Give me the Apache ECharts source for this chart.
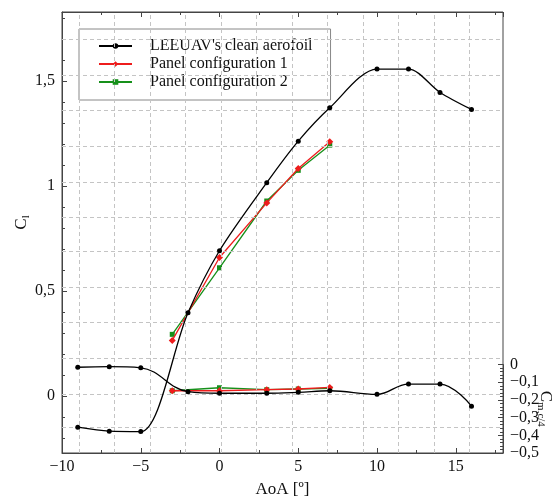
<!DOCTYPE html>
<html><head><meta charset="utf-8">
<script src="https://cdn.jsdelivr.net/npm/echarts@6/dist/echarts.min.js"></script>
<style>html,body{margin:0;padding:0;background:#fff}#c{width:556px;height:497px}</style>
</head><body><div id="c"></div>
<script>
// ---- data ----
const aoaClean = [-9, -7, -5, -2, 0, 3, 5, 7, 10, 12, 14, 16];
const clClean  = [-0.148, -0.167, -0.169, 0.397, 0.692, 1.016, 1.214, 1.373, 1.557, 1.557, 1.446, 1.365];
const cmClean  = [-0.015, -0.012, -0.018, -0.153, -0.162, -0.162, -0.157, -0.148, -0.168, -0.110, -0.110, -0.235];
const aoaPanel = [-3, 0, 3, 5, 7];
const clPanel1 = [0.265, 0.660, 0.920, 1.084, 1.211];
const clPanel2 = [0.294, 0.611, 0.929, 1.075, 1.195];
const cmPanel1 = [-0.148, -0.148, -0.142, -0.138, -0.129];
const cmPanel2 = [-0.148, -0.131, -0.142, -0.138, -0.135];
const seriesNames = ["LEEUAV's clean aerofoil", 'Panel configuration 1', 'Panel configuration 2'];
const xAxisName = 'AoA [º]';

// ---- helpers ----
const FONT = 'Liberation Serif';
const zip = (xs, ys) => xs.map((x, i) => [x, ys[i]]);
const fmt = v => (v < 0 ? '\u2212' : '') + String(Math.abs(+v.toFixed(3))).replace('.', ',');
const AX = '#444';
const labelStyle = {fontFamily: FONT, fontSize: 16, color: '#111'};

// dashed background grid (independent of tick positions in the original)
const gridXs = [], gridYs = [];
for (let k = 0; k < 12; k++) gridXs.push(+(-8.93 + 2.254 * k).toFixed(3));
for (let k = 0; k < 12; k++) gridYs.push(+(1.695 - 0.1681 * k).toFixed(4));

const nameRich = {
  c: {fontFamily: FONT, fontSize: 17, color: '#111', verticalAlign: 'top', lineHeight: 17},
  s: {fontFamily: FONT, fontSize: 11, color: '#111', verticalAlign: 'top', lineHeight: 11, padding: [8, 0, 0, 0]}
};

const axisLineStyle = {show: true, onZero: false, lineStyle: {color: AX, width: 1}};
const xBase = {
  type: 'value', min: -10, max: 18, interval: 5,
  splitLine: {show: false},
  axisLine: axisLineStyle,
  axisTick: {show: true, inside: true, length: 5, lineStyle: {color: AX}},
  minorTick: {show: true, splitNumber: 2, length: 3, lineStyle: {color: AX}},
  minorSplitLine: {show: false}
};

const colors = {black: '#000000', red: '#ee1c1c', green: '#16901a'};
function mk(name, data, color, symbol, size, xi, yi, smooth, z) {
  return {
    type: 'line', name, data, xAxisIndex: xi, yAxisIndex: yi,
    smooth: smooth, symbol, symbolSize: size, showSymbol: true, clip: false,
    color, itemStyle: {color}, lineStyle: {color, width: 1.3}, z, animation: false
  };
}

const option = {
  animation: false,
  backgroundColor: '#fff',
  grid: [
    {left: 62, right: 53, top: 12, bottom: 44, show: true, borderColor: AX, borderWidth: 1, backgroundColor: 'transparent', outerBoundsMode: 'none', containLabel: false},
    {left: 62, right: 53, top: 364.6, bottom: 44, show: false, outerBoundsMode: 'none', containLabel: false}
  ],
  xAxis: [
    Object.assign({}, xBase, {
      gridIndex: 0, position: 'bottom',
      axisLabel: Object.assign({show: true, margin: 6, showMaxLabel: false, formatter: fmt}, labelStyle),
      name: xAxisName, nameLocation: 'middle', nameGap: 28, nameMoveOverlap: false,
      nameTextStyle: {fontFamily: FONT, fontSize: 17, color: '#111'}
    }),
    Object.assign({}, xBase, {gridIndex: 0, position: 'top', axisLabel: {show: false}}),
    {type: 'value', gridIndex: 1, min: -10, max: 18, show: false, axisLine: {onZero: false}}
  ],
  yAxis: [
    {
      type: 'value', gridIndex: 0, position: 'left', min: -0.271, max: 1.829, splitNumber: 4,
      splitLine: {show: false},
      axisLine: axisLineStyle,
      axisTick: {show: true, inside: true, length: 5, lineStyle: {color: AX}},
      minorTick: {show: true, splitNumber: 5, length: 3, lineStyle: {color: AX}},
      axisLabel: Object.assign({show: true, margin: 7, showMinLabel: false, showMaxLabel: false, formatter: fmt}, labelStyle),
      name: '{c|C}{s|l}', nameLocation: 'middle', nameGap: 32, nameRotate: 90, nameMoveOverlap: false,
      nameTextStyle: {rich: nameRich, padding: [0, 0, 0, 20]}
    },
    {
      type: 'value', gridIndex: 1, position: 'right', min: -0.5, max: 0, interval: 0.1,
      splitLine: {show: false},
      axisLine: axisLineStyle,
      axisTick: {show: true, inside: true, length: 5, lineStyle: {color: AX}},
      minorTick: {show: true, splitNumber: 5, length: 3, lineStyle: {color: AX}},
      axisLabel: Object.assign({show: true, margin: 7, formatter: fmt}, labelStyle),
      name: '{c|C}{s|m,c/4}', nameLocation: 'middle', nameGap: 34, nameRotate: -90, nameMoveOverlap: false,
      nameTextStyle: {rich: nameRich}
    }
  ],
  legend: {
    show: true, orient: 'vertical', left: 79, top: 29, align: 'left',
    data: seriesNames,
    padding: [9, 18, 10, 19], itemGap: 2, itemWidth: 33, itemHeight: 7,
    backgroundColor: '#fff', borderColor: '#888', borderWidth: 1, borderRadius: 0,
    textStyle: {fontFamily: FONT, fontSize: 16, color: '#111', padding: [0, 0, 0, 13]},
    selectedMode: false
  },
  series: [
    {
      type: 'line', name: '_grid', data: [], xAxisIndex: 0, yAxisIndex: 0, silent: true, z: 1,
      markLine: {
        silent: true, animation: false, symbol: ['none', 'none'], label: {show: false},
        lineStyle: {color: '#c4c4c4', type: [4, 3], width: 1},
        emphasis: {disabled: true},
        data: gridXs.map(v => ({xAxis: v})).concat(gridYs.map(v => ({yAxis: v})))
      }
    },
    mk(seriesNames[2], zip(aoaPanel, clPanel2), colors.green, 'rect', 5, 0, 0, false, 3),
    mk(seriesNames[1], zip(aoaPanel, clPanel1), colors.red, 'diamond', 7, 0, 0, false, 4),
    mk(seriesNames[0], zip(aoaClean, clClean), colors.black, 'circle', 5, 0, 0, 0.3, 5),
    mk(seriesNames[2], zip(aoaPanel, cmPanel2), colors.green, 'rect', 5, 2, 1, false, 3),
    mk(seriesNames[1], zip(aoaPanel, cmPanel1), colors.red, 'diamond', 7, 2, 1, false, 4),
    mk(seriesNames[0], zip(aoaClean, cmClean), colors.black, 'circle', 5, 2, 1, 0.4, 5)
  ]
};
const chart = echarts.init(document.getElementById('c'), null, {renderer: 'canvas'});
chart.setOption(option);
</script>
</body></html>
